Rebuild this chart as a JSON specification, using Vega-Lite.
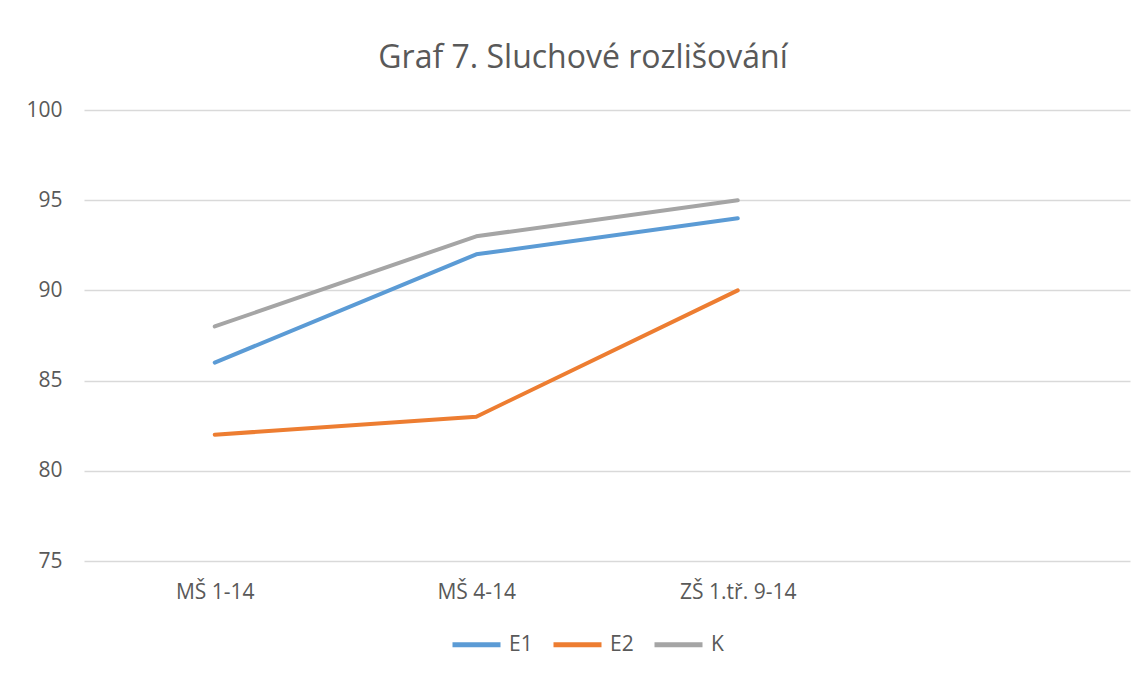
{
  "$schema": "https://vega.github.io/schema/vega-lite/v6.json",
  "width": 1046,
  "height": 451,
  "autosize": {"type": "none"},
  "padding": {"left": 84, "top": 110, "right": 14, "bottom": 114},
  "background": "white",
  "title": {
    "text": "Graf 7. Sluchové rozlišování",
    "anchor": "middle",
    "frame": "group",
    "dx": -24,
    "offset": 24,
    "font": "Open Sans",
    "fontSize": 32,
    "fontWeight": "normal",
    "color": "#595959"
  },
  "data": {
    "values": [
      {"kat": "MŠ 1-14", "serie": "E1", "hodnota": 86},
      {"kat": "MŠ 4-14", "serie": "E1", "hodnota": 92},
      {"kat": "ZŠ 1.tř. 9-14", "serie": "E1", "hodnota": 94},
      {"kat": "MŠ 1-14", "serie": "E2", "hodnota": 82},
      {"kat": "MŠ 4-14", "serie": "E2", "hodnota": 83},
      {"kat": "ZŠ 1.tř. 9-14", "serie": "E2", "hodnota": 90},
      {"kat": "MŠ 1-14", "serie": "K", "hodnota": 88},
      {"kat": "MŠ 4-14", "serie": "K", "hodnota": 93},
      {"kat": "ZŠ 1.tř. 9-14", "serie": "K", "hodnota": 95}
    ]
  },
  "mark": {"type": "line", "strokeWidth": 4, "strokeCap": "round", "strokeJoin": "round"},
  "encoding": {
    "x": {
      "field": "kat",
      "type": "nominal",
      "sort": null,
      "scale": {"type": "point", "domain": ["MŠ 1-14", "MŠ 4-14", "ZŠ 1.tř. 9-14", " "], "padding": 0.5},
      "axis": {
        "title": null,
        "labelAngle": 0,
        "ticks": false,
        "domain": false,
        "grid": false,
        "labelPadding": 20,
        "labelFont": "Open Sans",
        "labelFontSize": 21,
        "labelColor": "#595959"
      }
    },
    "y": {
      "field": "hodnota",
      "type": "quantitative",
      "scale": {"domain": [75, 100], "nice": false, "zero": false},
      "axis": {
        "title": null,
        "values": [75, 80, 85, 90, 95, 100],
        "ticks": false,
        "domain": false,
        "grid": true,
        "gridColor": "#d9d9d9",
        "gridWidth": 1.3,
        "labelPadding": 22,
        "labelFont": "Open Sans",
        "labelFontSize": 21,
        "labelColor": "#595959"
      }
    },
    "color": {
      "field": "serie",
      "type": "nominal",
      "scale": {"domain": ["E1", "E2", "K"], "range": ["#5b9bd5", "#ed7d31", "#a5a5a5"]},
      "legend": {
        "title": null,
        "orient": "none",
        "legendX": 366,
        "legendY": 508,
        "direction": "horizontal",
        "symbolType": "stroke",
        "symbolSize": 2304,
        "symbolStrokeWidth": 5,
        "labelFont": "Open Sans",
        "labelFontSize": 21,
        "labelColor": "#595959",
        "labelOffset": 6,
        "columnPadding": 10
      }
    }
  },
  "config": {"view": {"stroke": null}}
}
